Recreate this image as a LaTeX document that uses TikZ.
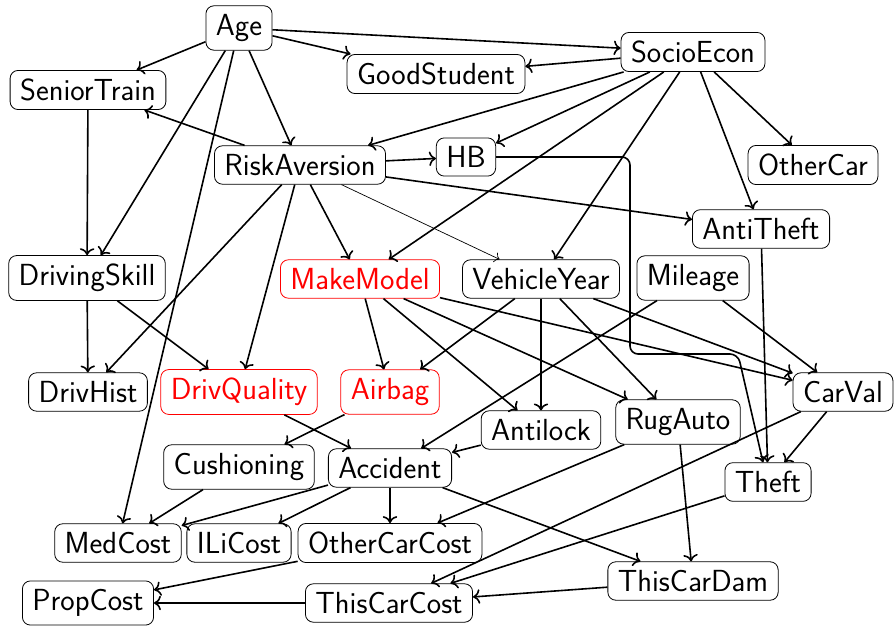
\documentclass[tikz,border=0pt]{standalone}
\usepackage{tikz}
\usetikzlibrary{arrows.meta}
\tikzset{
    var-box/.style = {draw=black, fill=white, line width=0.8pt, rectangle, rounded corners=8pt, inner xsep=10pt, inner ysep=8.5pt, font=\sffamily\fontsize{30.5}{36}\selectfont},
    var-box-red/.style = {var-box, draw=red, text=red},
    dep-arrow/.style = {-{To[scale=1.35]}, line width=1.6pt},
    dep-arrow-thin/.style = {-{To[scale=1.6]}, line width=0.7pt},
}

\begin{document}
\begin{tikzpicture}[x=1pt, y=-1pt]
\useasboundingbox (0,0) rectangle (894,626);

% variables
\node [var-box] (Age) at (239,28) {Age};
\node [var-box] (SeniorTrain) at (88,90) {SeniorTrain};
\node [var-box] (GoodStudent) at (436,74) {GoodStudent};
\node [var-box] (SocioEcon) at (693,52) {SocioEcon};
\node [var-box] (RiskAversion) at (300,165) {RiskAversion};
\node [var-box] (HB) at (466,157) {HB};
\node [var-box] (OtherCar) at (813,165) {OtherCar};
\node [var-box] (AntiTheft) at (761,229) {AntiTheft};
\node [var-box] (DrivingSkill) at (87,278) {DrivingSkill};
\node [var-box-red] (MakeModel) at (360,279) {MakeModel};
\node [var-box] (VehicleYear) at (541,279) {VehicleYear};
\node [var-box] (Mileage) at (693,278) {Mileage};
\node [var-box] (DrivHist) at (88,392) {DrivHist};
\node [var-box-red] (DrivQuality) at (239,392) {DrivQuality};
\node [var-box-red] (Airbag) at (390,392) {Airbag};
\node [var-box] (CarVal) at (843,392) {CarVal};
\node [var-box] (Antilock) at (541,430) {Antilock};
\node [var-box] (RugAuto) at (678,422) {RugAuto};
\node [var-box] (Cushioning) at (239,467) {Cushioning};
\node [var-box] (Accident) at (390,468) {Accident};
\node [var-box] (Theft) at (768,482) {Theft};
\node [var-box] (MedCost) at (118,543) {MedCost};
\node [var-box] (ILiCost) at (239,543) {ILiCost};
\node [var-box] (OtherCarCost) at (390,543) {OtherCarCost};
\node [var-box] (ThisCarDam) at (693,581) {ThisCarDam};
\node [var-box] (PropCost) at (88,603) {PropCost};
\node [var-box] (ThisCarCost) at (389,603) {ThisCarCost};

% bend points of the HB link
\coordinate (hb-a) at (630,157);
\coordinate (hb-b) at (630,354);
\coordinate (hb-c) at (738,354);

% dependencies
\draw [dep-arrow] (Age) -- (SeniorTrain);
\draw [dep-arrow] (Age) -- (GoodStudent);
\draw [dep-arrow] (Age) -- (SocioEcon);
\draw [dep-arrow] (Age) -- (RiskAversion);
\draw [dep-arrow] (Age) -- (DrivingSkill);
\draw [dep-arrow] (Age) -- (MedCost);
\draw [dep-arrow] (SocioEcon) -- (GoodStudent);
\draw [dep-arrow] (SocioEcon) -- (RiskAversion);
\draw [dep-arrow] (SocioEcon) -- (HB);
\draw [dep-arrow] (SocioEcon) -- (MakeModel);
\draw [dep-arrow] (SocioEcon) -- (VehicleYear);
\draw [dep-arrow] (SocioEcon) -- (AntiTheft);
\draw [dep-arrow] (SocioEcon) -- (OtherCar);
\draw [dep-arrow] (RiskAversion) -- (SeniorTrain);
\draw [dep-arrow] (RiskAversion) -- (HB);
\draw [dep-arrow] (RiskAversion) -- (AntiTheft);
\draw [dep-arrow-thin] (RiskAversion) -- (VehicleYear);
\draw [dep-arrow] (RiskAversion) -- (MakeModel);
\draw [dep-arrow] (RiskAversion) -- (DrivQuality);
\draw [dep-arrow] (RiskAversion) -- (DrivHist);
\draw [dep-arrow] (SeniorTrain) -- (DrivingSkill);
\draw [dep-arrow] (DrivingSkill) -- (DrivHist);
\draw [dep-arrow] (DrivingSkill) -- (DrivQuality);
\draw [dep-arrow, rounded corners=8pt] (HB) -- (hb-a) -- (hb-b) -- (hb-c) -- ([xshift=-5pt]Theft.north);
\draw [dep-arrow] (MakeModel) -- (Airbag);
\draw [dep-arrow] (MakeModel) -- (Antilock);
\draw [dep-arrow] (MakeModel) -- (RugAuto);
\draw [dep-arrow] (MakeModel) -- (CarVal);
\draw [dep-arrow] (VehicleYear) -- (Airbag);
\draw [dep-arrow] (VehicleYear) -- (Antilock);
\draw [dep-arrow] (VehicleYear) -- (RugAuto);
\draw [dep-arrow] (VehicleYear) -- (CarVal);
\draw [dep-arrow] (Mileage) -- (Accident);
\draw [dep-arrow] (Mileage) -- (CarVal);
\draw [dep-arrow] (AntiTheft) -- (Theft);
\draw [dep-arrow] (CarVal) -- (Theft);
\draw [dep-arrow] (CarVal) -- (ThisCarCost);
\draw [dep-arrow] (Theft) -- (ThisCarCost);
\draw [dep-arrow] (RugAuto) -- (OtherCarCost);
\draw [dep-arrow] (RugAuto) -- (ThisCarDam);
\draw [dep-arrow] (Antilock) -- (Accident);
\draw [dep-arrow] (DrivQuality) -- (Accident);
\draw [dep-arrow] (Airbag) -- (Cushioning);
\draw [dep-arrow] (Cushioning) -- (MedCost);
\draw [dep-arrow] (Accident) -- (MedCost);
\draw [dep-arrow] (Accident) -- (ILiCost);
\draw [dep-arrow] (Accident) -- (OtherCarCost);
\draw [dep-arrow] (Accident) -- (ThisCarDam);
\draw [dep-arrow] (OtherCarCost) -- (PropCost);
\draw [dep-arrow] (ThisCarCost) -- (PropCost);
\draw [dep-arrow] (ThisCarDam) -- (ThisCarCost);
\end{tikzpicture}
\end{document}
